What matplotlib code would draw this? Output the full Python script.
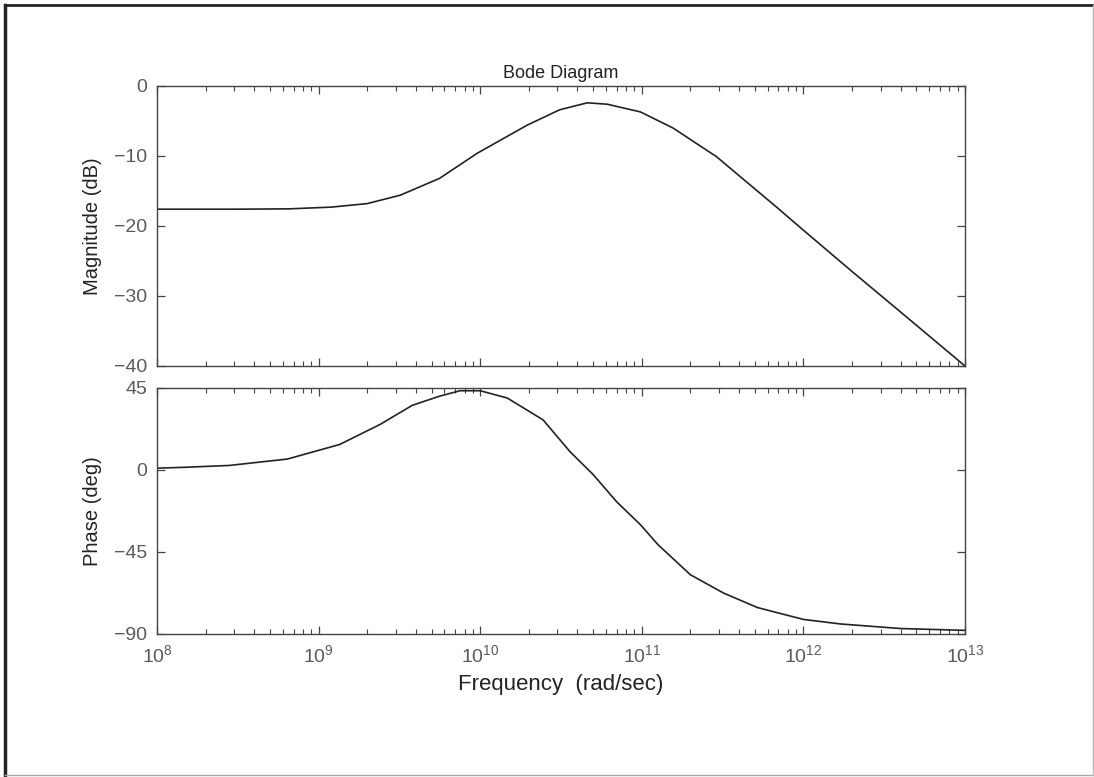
import matplotlib
matplotlib.use("Agg")
import matplotlib.pyplot as plt
from matplotlib.ticker import LogLocator, NullFormatter, FixedLocator
from matplotlib.lines import Line2D

plt.rcParams['font.family'] = ['Liberation Sans', 'DejaVu Sans']
plt.rcParams['mathtext.fontset'] = 'custom'
plt.rcParams['mathtext.rm'] = 'Liberation Sans'

# values
mag_freq = [1e8, 3e8, 6.6e8, 1.2e9, 2e9, 3.2e9, 5.6e9, 9.6e9, 1.95e10, 3.1e10,
            4.6e10, 6.1e10, 9.8e10, 1.56e11, 2.9e11, 6.9e11, 1e12, 2e12, 4e12, 1e13]
mag_db = [-17.6, -17.6, -17.55, -17.3, -16.8, -15.6, -13.2, -9.6, -5.6, -3.4,
          -2.4, -2.6, -3.7, -6.0, -10.1, -17.4, -20.6, -26.5, -32.3, -40.0]

ph_freq = [1e8, 1.5e8, 2.8e8, 6.4e8, 1.35e9, 2.4e9, 3.8e9, 5.6e9, 7.5e9, 1e10,
           1.47e10, 2.45e10, 3.6e10, 5e10, 7e10, 9.8e10, 1.26e11, 2e11, 3.2e11,
           5.2e11, 1e12, 1.7e12, 4e12, 1e13]
ph_deg = [1, 1.5, 2.5, 6, 14, 25, 35.5, 40.5, 43.5, 43.5,
          39.5, 27.5, 10, -2.5, -17.5, -30, -41, -57.5, -67.5,
          -75.5, -82, -84.5, -87, -88]

mag_ticks = [0, -10, -20, -30, -40]
ph_ticks = [45, 0, -45, -90]

W, H = 1094, 777
fig = plt.figure(figsize=(W / 100, H / 100), dpi=100)

def box(x0, y0, x1, y1):
    return [x0 / W, 1 - y1 / H, (x1 - x0) / W, (y1 - y0) / H]

ax1 = fig.add_axes(box(157, 86, 965, 366))
ax2 = fig.add_axes(box(157, 388, 965, 634))

line_c = '#222222'
tick_c = '#5a5a5a'
for ax in (ax1, ax2):
    ax.set_xscale('log')
    ax.set_xlim(1e8, 1e13)
    ax.xaxis.set_major_locator(LogLocator(base=10, numticks=10))
    ax.xaxis.set_minor_locator(LogLocator(base=10, subs=range(2, 10), numticks=20))
    ax.xaxis.set_minor_formatter(NullFormatter())
    ax.tick_params(which='both', direction='in', top=True, right=True,
                   colors='#444444', labelcolor=tick_c, labelsize=14)
    ax.tick_params(which='major', length=6, width=0.9)
    ax.tick_params(which='minor', length=3.5, width=0.8)
    ax.tick_params(axis='y', pad=7)
    for s in ax.spines.values():
        s.set_color('#444444')
        s.set_linewidth(1.0)

ax1.plot(mag_freq, mag_db, color=line_c, lw=1.2)
ax1.set_ylim(-40, 0)
ax1.yaxis.set_major_locator(FixedLocator(mag_ticks))
ax1.tick_params(axis='x', which='both', labelbottom=False)
ax1.set_ylabel('Magnitude (dB)', fontsize=14.5, color='#222222', labelpad=9)
ax1.set_title('Bode Diagram', fontsize=13, color='#222222', pad=6)

ax2.plot(ph_freq, ph_deg, color=line_c, lw=1.2)
ax2.set_ylim(-90, 45)
ax2.yaxis.set_major_locator(FixedLocator(ph_ticks))
ax2.set_ylabel('Phase (deg)', fontsize=14.5, color='#222222', labelpad=9)
ax2.set_xlabel('Frequency  (rad/sec)', fontsize=16, color='#222222', labelpad=6)
ax2.tick_params(axis='x', pad=7)

# scanned page border
fig.add_artist(Line2D([5 / W, 5 / W], [1 - 5 / H, 1 - 775 / H], color='#222222', lw=2.5))
fig.add_artist(Line2D([5 / W, 1093 / W], [1 - 5 / H, 1 - 5 / H], color='#222222', lw=2.0))
fig.add_artist(Line2D([5 / W, 1093 / W], [1 - 775 / H, 1 - 775 / H], color='#aaaaaa', lw=1.0))
fig.add_artist(Line2D([1093 / W, 1093 / W], [1 - 5 / H, 1 - 775 / H], color='#bbbbbb', lw=1.0))

fig.savefig('out.png', dpi=100)
